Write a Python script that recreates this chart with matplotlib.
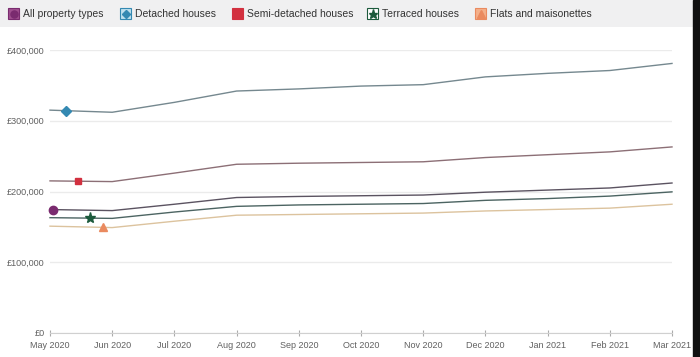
import numpy as np
import matplotlib
matplotlib.use('Agg')
import matplotlib.pyplot as plt
from matplotlib.patches import Rectangle
from matplotlib.ticker import FuncFormatter

plt.rcParams['font.family'] = ['Liberation Sans', 'DejaVu Sans']

# months on the x axis
months = ['May 2020', 'Jun 2020', 'Jul 2020', 'Aug 2020', 'Sep 2020', 'Oct 2020',
          'Nov 2020', 'Dec 2020', 'Jan 2021', 'Feb 2021', 'Mar 2021']

# average price by property type
all_types = [174500, 173000, 182000, 191500, 193000, 194000, 195000, 199000, 202000, 205000, 212000]
detached = [315000, 312000, 326000, 342000, 345000, 349000, 351000, 362000, 367000, 371000, 381000]
semi = [215000, 214000, 226000, 238500, 240000, 241000, 242000, 248000, 252000, 256000, 263000]
terraced = [163000, 162000, 171000, 179000, 181000, 182000, 183000, 187500, 190000, 193500, 199500]
flats = [151000, 149000, 158000, 166500, 167500, 168500, 169500, 172500, 174500, 176500, 182000]

names = ['All property types', 'Detached houses', 'Semi-detached houses',
         'Terraced houses', 'Flats and maisonettes']
series = [all_types, detached, semi, terraced, flats]
line_cols = ['#5b5361', '#75888f', '#8c6f76', '#4c6462', '#dcc39e']
mark_cols = ['#7a2b6f', '#3489b2', '#d2303f', '#1c5a3c', '#ea8a5f']
mark_shapes = ['o', 'D', 's', '*', '^']
mark_sizes = [6, 5, 5, 8, 6]
mark_offsets = [0.05, 0.25, 0.45, 0.65, 0.85]

fig = plt.figure(figsize=(7, 3.57), dpi=100)
fig.patch.set_facecolor('white')

ax = fig.add_axes([50 / 700, 24 / 357, 622 / 700, 283 / 357])
x = np.arange(len(months))
for vals, lc, mc, m, ms, off in zip(series, line_cols, mark_cols, mark_shapes, mark_sizes, mark_offsets):
    ax.plot(x, vals, color=lc, lw=1.0, clip_on=False, zorder=3)
    ax.plot([off], [np.interp(off, x, vals)], marker=m, color=mc, ms=ms,
            markeredgecolor=mc, clip_on=False, zorder=4)

ax.set_xlim(0, len(months) - 1)
ax.set_ylim(0, 400000)
ax.set_yticks([0, 100000, 200000, 300000, 400000])
ax.yaxis.set_major_formatter(FuncFormatter(lambda v, p: '£{:,.0f}'.format(v)))
ax.set_xticks(x)
ax.set_xticklabels(months)
ax.grid(axis='y', color='#ebebeb', lw=1)
ax.set_axisbelow(True)
for s in ['top', 'right', 'left']:
    ax.spines[s].set_visible(False)
ax.spines['bottom'].set_color('#d0d0d0')
ax.tick_params(axis='y', length=0, pad=4, labelsize=6.5, labelcolor='#606060')
ax.tick_params(axis='x', direction='inout', length=4, color='#aaaaaa', pad=4,
               labelsize=6.5, labelcolor='#606060')

# legend band across the top
lg = fig.add_axes([0, 330 / 357, 693 / 700, 27 / 357])
lg.set_xlim(0, 693)
lg.set_ylim(0, 27)
lg.axis('off')
lg.add_patch(Rectangle((0, 0), 693, 27, color='#f0f0f1', zorder=0))
icon_x = [8, 120, 232, 367, 475]
icon_fill = ['#a0508f', '#bfe0ee', '#d2303f', '#ffffff', '#f4b08a']
for ix, nm, mc, fc, m, ms in zip(icon_x, names, mark_cols, icon_fill, mark_shapes, mark_sizes):
    lg.add_patch(Rectangle((ix, 8), 11, 11, facecolor=fc, edgecolor=mc, lw=0.8, zorder=1))
    lg.plot([ix + 5.5], [13.5], marker=m, color=mc, ms=ms * 0.85, zorder=2)
    lg.text(ix + 15, 13, nm, fontsize=7.5, color='#333333', va='center', ha='left')

# dark strip at the right edge
fig.add_artist(Rectangle((693 / 700, 0), 7 / 700, 1, transform=fig.transFigure,
                         color='#111111'))

fig.savefig('out.png', dpi=100)
